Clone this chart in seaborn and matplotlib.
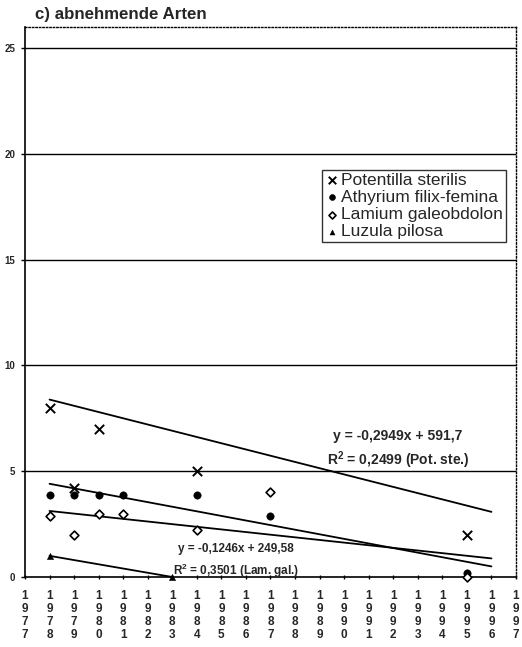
import numpy as np
import pandas as pd
import matplotlib
matplotlib.use("Agg")
import matplotlib.pyplot as plt
import seaborn as sns

title = "c) abnehmende Arten"
years_all = list(range(1977, 1998))

pot_years = [1978, 1979, 1980, 1984, 1995]
pot_vals = [8.0, 4.2, 7.0, 5.0, 2.0]

ath_years = [1978, 1979, 1980, 1981, 1984, 1987, 1995]
ath_vals = [3.9, 3.9, 3.9, 3.9, 3.9, 2.9, 0.2]

lam_years = [1978, 1979, 1980, 1981, 1984, 1987, 1995]
lam_vals = [2.9, 2.0, 3.0, 3.0, 2.2, 4.0, 0.0]

luz_years = [1978, 1983]
luz_vals = [1.0, 0.0]

# trendline coefficients printed on the chart (slope, intercept)
pot_trend = (-0.2949, 591.7)
lam_trend = (-0.1246, 249.58)

species = ["Potentilla sterilis", "Athyrium filix-femina", "Lamium galeobdolon", "Luzula pilosa"]
eq_pot = "y = -0,2949x + 591,7\nR$^2$ = 0,2499 (Pot. ste.)"
eq_lam = "y = -0,1246x + 249,58\nR$^2$ = 0,3501 (Lam. gal.)"

sns.set_theme(style="white")
plt.rcParams['font.family'] = ['Liberation Sans', 'DejaVu Sans']
plt.rcParams['mathtext.default'] = 'regular'

fig = plt.figure(figsize=(5.22, 6.47), dpi=100)
ax = fig.add_axes([25/522, 1-577/647, (516-25)/522, (577-27)/647])

ax.set_xlim(1977, 1997)
ax.set_ylim(0, 26)

for gy in [5, 10, 15, 20, 25]:
    ax.axhline(gy, color="black", lw=1.0, zorder=1)

def fitted(xs, ys, x0, x1, coef=None):
    if coef is None:
        coef = np.polyfit(xs, ys, 1)
    k, d = coef
    xx = np.array([x0, x1], dtype=float)
    return xx, k * xx + d

lines = [fitted(pot_years, pot_vals, 1978, 1996, pot_trend),
         fitted(ath_years, ath_vals, 1978, 1996),
         fitted(lam_years, lam_vals, 1978, 1996, lam_trend),
         fitted(luz_years, luz_vals, 1978, 1983)]
for xx, yy in lines:
    sns.lineplot(x=xx, y=yy, ax=ax, color="black", lw=1.3, zorder=2, clip_on=False)

sns.scatterplot(x=pot_years, y=pot_vals, ax=ax, marker="x", s=45, color="black",
                linewidth=1.4, label=species[0], zorder=3, clip_on=False)
sns.scatterplot(x=ath_years, y=ath_vals, ax=ax, marker="o", s=28, color="black",
                edgecolor="black", label=species[1], zorder=3, clip_on=False)
sns.scatterplot(x=lam_years, y=lam_vals, ax=ax, marker="D", s=20, facecolor="white",
                edgecolor="black", linewidth=1.2, label=species[2], zorder=3, clip_on=False)
sns.scatterplot(x=luz_years, y=luz_vals, ax=ax, marker="^", s=20, color="black",
                edgecolor="black", label=species[3], zorder=3, clip_on=False)

leg = ax.legend(loc="upper left", bbox_to_anchor=((322-25)/491, (577-170)/550),
                frameon=True, fancybox=False, edgecolor="black", fontsize=12.5,
                handletextpad=0.05, borderpad=0.15, labelspacing=0.12,
                handlelength=0.9, borderaxespad=0, markerscale=0.8)
leg.get_frame().set_linewidth(1.0)

ax.text(1992.2, 6.0, eq_pot, ha="center", va="center", fontsize=10, fontweight="bold",
        linespacing=1.45)
ax.text(1985.6, 0.72, eq_lam, ha="center", va="center", fontsize=8.5, fontweight="bold",
        linespacing=1.55)

for s in ["top", "right"]:
    ax.spines[s].set_linestyle((0, (1, 1.5)))
    ax.spines[s].set_linewidth(1.0)
    ax.spines[s].set_color("black")
ax.spines["left"].set_color("black")
ax.spines["left"].set_linewidth(1.2)
ax.spines["bottom"].set_color("black")
ax.spines["bottom"].set_linewidth(1.2)

ax.set_yticks([0, 5, 10, 15, 20, 25])
ax.set_yticklabels(["0", "5", "10", "15", "20", "25"], fontsize=7, fontweight="bold")
ax.set_xticks(years_all)
ax.set_xticklabels(["\n".join(str(y)) for y in years_all], fontsize=8.5,
                   fontweight="bold", linespacing=1.12)
ax.tick_params(axis="y", length=3, width=1, color="black", pad=4, left=True)
ax.tick_params(axis="x", length=3, width=1, color="black", pad=8, bottom=True,
               direction="inout")
ax.set_xlabel("")
ax.set_ylabel("")

fig.text(35/522, 1-14/647, title, ha="left", va="center", fontsize=12.2, fontweight="bold")

fig.savefig("out.png", dpi=100)
